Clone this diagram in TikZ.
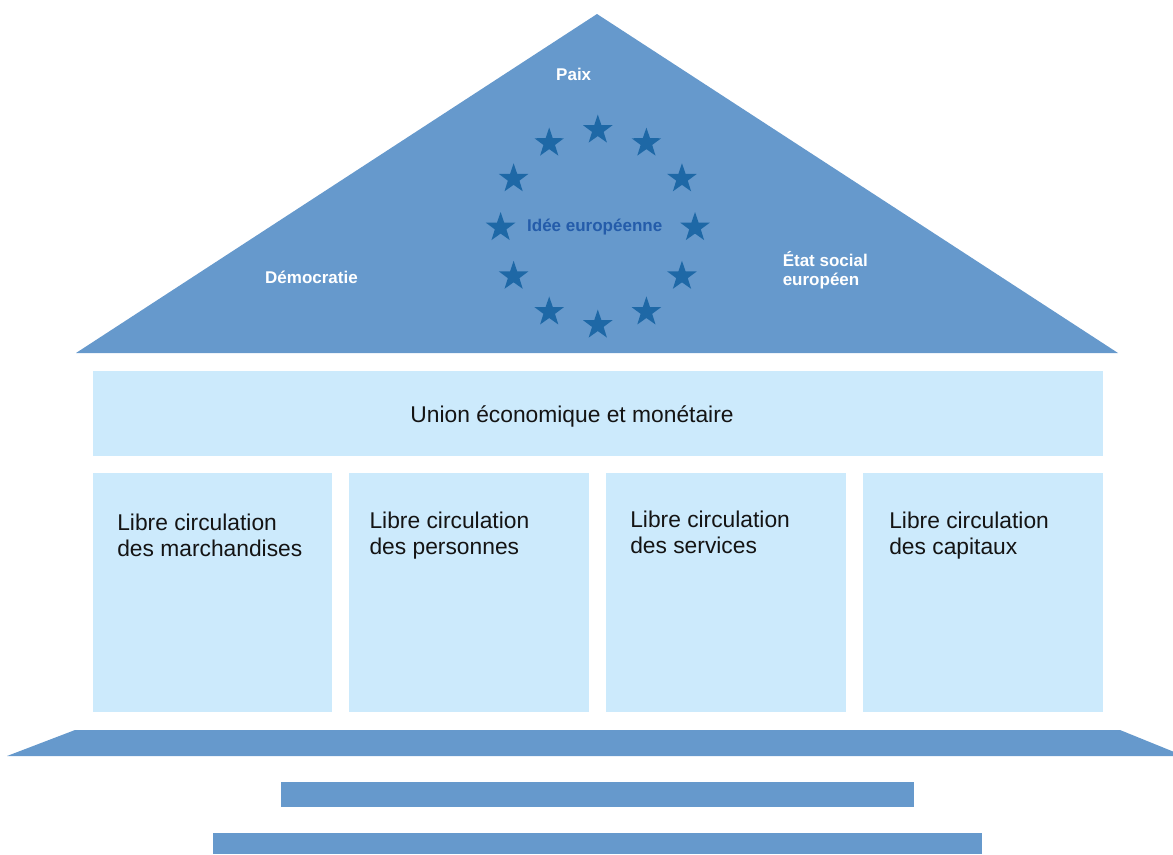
\documentclass[tikz,border=0pt]{standalone}
\usepackage{fontspec}
\setmainfont{Liberation Sans}
\usetikzlibrary{shapes.geometric}
\definecolor{roofblue}{RGB}{102,153,204}
\definecolor{paleblue}{RGB}{204,234,252}
\definecolor{stardark}{RGB}{30,104,166}
\definecolor{ideablue}{RGB}{36,92,170}
\definecolor{inktext}{RGB}{20,20,20}
\begin{document}
\begin{tikzpicture}[x=0.75pt,y=-0.75pt,
  rooflabel/.style={font=\fontsize{12.75pt}{14pt}\selectfont\bfseries, text=white, inner sep=0pt, anchor=base},
  bodytext/.style={font=\fontsize{17.1pt}{20pt}\selectfont, text=inktext, inner sep=0pt, anchor=base west},
  eustar/.style={star, star points=5, star point ratio=2.55, fill=stardark, draw=none, inner sep=0pt, minimum size=23.25pt},
  block/.style={fill=paleblue},
  slab/.style={fill=roofblue}
]
\useasboundingbox (0,0) rectangle (1173,854);

% roof
\fill[slab] (597,14) -- (1118,353) -- (76,353) -- cycle;

% ring of twelve stars
\foreach \k in {1,...,12} {
  \node[eustar] (star\k) at ({597.8+97.2*sin(30*\k)},{227.5-97.5*cos(30*\k)}) {};
}

% roof labels
\node[rooflabel] (paix) at (573.7,80.7) {Paix};
\node[rooflabel] (demo) at (311.5,283.3) {Démocratie};
\node[rooflabel, anchor=base west] (etat1) at (782.5,266) {État social};
\node[rooflabel, anchor=base west] (etat2) at (782.5,285) {européen};
\node[rooflabel, text=ideablue] (idee) at (594.7,231.7) {Idée européenne};

% architrave
\fill[block] (93,371) rectangle (1103,456);
\node[bodytext, anchor=base] (union) at (572,422.3) {Union économique et monétaire};

% four pillars
\fill[block] (93,473) rectangle (332,712);
\fill[block] (349,473) rectangle (589,712);
\fill[block] (606,473) rectangle (846,712);
\fill[block] (863,473) rectangle (1103,712);

\node[bodytext] (p1a) at (117,530) {Libre circulation};
\node[bodytext] (p1b) at (117,556.5) {des marchandises};
\node[bodytext] (p2a) at (369.3,528.5) {Libre circulation};
\node[bodytext] (p2b) at (369.3,554.5) {des personnes};
\node[bodytext] (p3a) at (630,527.5) {Libre circulation};
\node[bodytext] (p3b) at (630,553.5) {des services};
\node[bodytext] (p4a) at (889,528.5) {Libre circulation};
\node[bodytext] (p4b) at (889,554.5) {des capitaux};

% base and steps
\fill[slab] (75,730) -- (1120,730) -- (1173,751.5) -- (1173,756) -- (7,756) -- cycle;
\fill[slab] (281,782) rectangle (914,807);
\fill[slab] (213,833) rectangle (982,854);
\end{tikzpicture}
\end{document}
